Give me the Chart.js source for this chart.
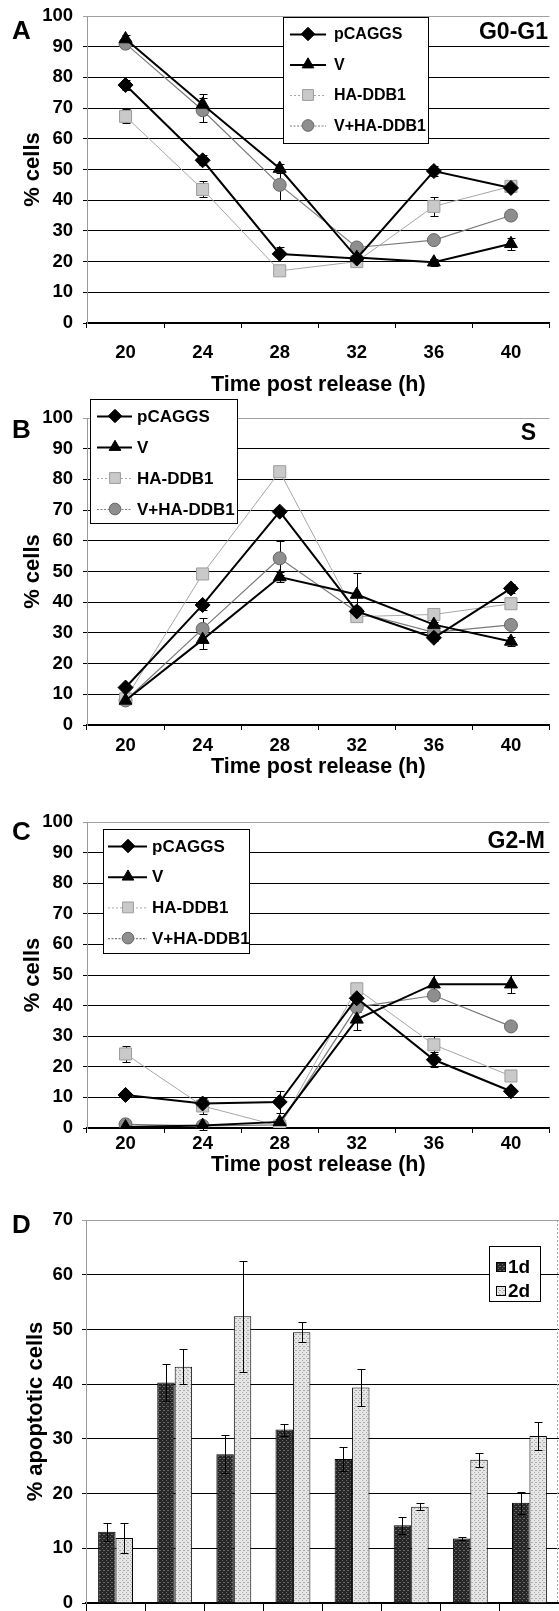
<!DOCTYPE html>
<html><head><meta charset="utf-8">
<script src="https://cdn.jsdelivr.net/npm/chart.js@4/dist/chart.umd.min.js"></script>
<style>
html,body{margin:0;padding:0;background:#fff;}
body{width:559px;height:1611px;position:relative;overflow:hidden;}
canvas{position:absolute;left:0;}
</style></head><body>
<canvas id="cA" width="559" height="400" style="top:0px"></canvas>
<canvas id="cB" width="559" height="387" style="top:395px"></canvas>
<canvas id="cC" width="559" height="385" style="top:795px"></canvas>
<canvas id="cD" width="559" height="421" style="top:1190px"></canvas>
<script>
// ---------- DATA ----------
const hours = ['20', '24', '28', '32', '36', '40'];
const seriesNames = ['pCAGGS', 'V', 'HA-DDB1', 'V+HA-DDB1'];

// Panel A: G0-G1
const g1PCAGGS = [77.5, 53.0, 22.5, 21.0, 49.5, 44.0];
const g1PCAGGSErr = [1.6, 1.6, 2.4, 0.8, 1.5, 1.0];
const g1V = [92.5, 71.2, 50.3, 21.3, 19.8, 25.8];
const g1VErr = [1.2, 3.3, 1.5, 0.8, 1.2, 2.0];
const g1HA = [67.3, 43.5, 17.0, 20.0, 38.0, 44.5];
const g1HAErr = [2.3, 2.6, 1.0, 1.0, 3.0, 1.0];
const g1VHA = [91.0, 69.3, 45.0, 24.6, 27.0, 35.0];
const g1VHAErr = [1.0, 3.9, 5.0, 1.5, 1.0, 1.0];

// Panel B: S
const sPCAGGS = [12.2, 39.1, 69.5, 37.0, 28.4, 44.5];
const sPCAGGSErr = [0.8, 1.5, 1.0, 1.0, 1.0, 1.5];
const sV = [8.0, 27.8, 48.2, 42.5, 32.7, 27.2];
const sVErr = [1.0, 3.0, 1.5, 7.0, 1.0, 1.5];
const sHA = [8.5, 49.2, 82.5, 35.3, 36.0, 39.5];
const sHAErr = [0.8, 1.0, 1.0, 1.5, 1.5, 1.2];
const sVHA = [8.0, 31.3, 54.3, 36.8, 30.2, 32.6];
const sVHAErr = [1.0, 3.7, 5.5, 1.5, 1.0, 1.0];

// Panel C: G2-M
const mPCAGGS = [10.8, 8.0, 8.5, 42.4, 22.3, 12.0];
const mPCAGGSErr = [0.8, 1.5, 3.7, 1.5, 2.5, 1.0];
const mV = [0.3, 0.8, 2.0, 35.5, 47.0, 47.0];
const mVErr = [0.3, 1.5, 1.0, 3.5, 3.0, 3.0];
const mHA = [24.2, 7.2, 0.6, 45.5, 27.2, 17.0];
const mHAErr = [2.5, 2.5, 0.5, 1.5, 3.0, 1.5];
const mVHA = [1.2, 0.7, 1.0, 39.5, 43.3, 33.2];
const mVHAErr = [0.8, 0.5, 0.5, 1.5, 1.5, 1.0];

// Panel D: % apoptotic cells
const groups = ['1', '2', '3', '4', '5', '6', '7', '8'];
const barNames = ['1d', '2d'];
const apo1d = [13.0, 40.3, 27.2, 31.7, 26.3, 14.2, 11.8, 18.3];
const apo1dErr = [1.6, 3.3, 3.5, 1.1, 2.2, 1.6, 0.2, 2.0];
const apo2d = [11.9, 43.2, 52.4, 49.5, 39.4, 17.6, 26.2, 30.5];
const apo2dErr = [2.7, 3.2, 10.1, 1.8, 3.4, 0.6, 1.3, 2.5];

// ---------- STYLE ----------
const FONT = "'Liberation Sans', Arial, sans-serif";
Chart.defaults.font.family = FONT;
Chart.defaults.color = '#000';

function makePattern(base, dot) {
  const c = document.createElement('canvas');
  c.width = 4; c.height = 4;
  const x = c.getContext('2d');
  x.fillStyle = base; x.fillRect(0, 0, 4, 4);
  x.fillStyle = dot; x.fillRect(0, 0, 1, 1); x.fillRect(2, 2, 1, 1); x.fillRect(3, 0, 1, 1);
  return x.createPattern(c, 'repeat');
}
const patDark = makePattern('#262626', '#6a6a6a');
const patLight = makePattern('#e6e6e6', '#a9a9a9');

const lineStyles = [
  {borderColor: '#000', borderWidth: 2, pointStyle: 'rectRot', pointRadius: 7.5, pointBackgroundColor: '#000', pointBorderColor: '#000', legendDash: []},
  {borderColor: '#000', borderWidth: 2, pointStyle: 'triangle', pointRadius: 7.5, pointBackgroundColor: '#000', pointBorderColor: '#000', legendDash: []},
  {borderColor: '#a6a6a6', borderWidth: 1, pointStyle: 'rect', pointRadius: 8.5, pointBackgroundColor: '#c9c9c9', pointBorderColor: '#9c9c9c', legendDash: [2, 2]},
  {borderColor: '#7a7a7a', borderWidth: 1.2, pointStyle: 'circle', pointRadius: 6.5, pointBackgroundColor: '#8e8e8e', pointBorderColor: '#666', legendDash: [2, 1.5]}
];

function drawErrors(chart) {
  const ctx = chart.ctx, ys = chart.scales.y;
  ctx.save();
  ctx.strokeStyle = '#000'; ctx.lineWidth = 1;
  chart.data.datasets.forEach((ds, i) => {
    if (!ds.errors) return;
    const meta = chart.getDatasetMeta(i);
    meta.data.forEach((el, j) => {
      const v = ds.data[j], e = ds.errors[j];
      if (e == null) return;
      const x = Math.round(el.x) + 0.5;
      const yt = Math.round(ys.getPixelForValue(v + e)) + 0.5;
      const yb = Math.round(ys.getPixelForValue(v - e)) + 0.5;
      ctx.beginPath();
      ctx.moveTo(x, yt); ctx.lineTo(x, yb);
      ctx.moveTo(x - 4, yt); ctx.lineTo(x + 4, yt);
      ctx.moveTo(x - 4, yb); ctx.lineTo(x + 4, yb);
      ctx.stroke();
    });
  });
  ctx.restore();
}

const decoPlugin = {
  id: 'deco',
  beforeDatasetsDraw(chart, args, o) { if (chart.config.type === 'line') drawErrors(chart); },
  afterDatasetsDraw(chart, args, o) { if (chart.config.type === 'bar') drawErrors(chart); },
  afterDraw(chart, args, o) {
    const ctx = chart.ctx;
    ctx.save();
    if (o.rightBorder) {
      const a = chart.chartArea;
      ctx.strokeStyle = '#a0a0a0'; ctx.lineWidth = 1; ctx.setLineDash([2, 2]);
      ctx.beginPath(); ctx.moveTo(a.right - 1.5, a.top); ctx.lineTo(a.right - 1.5, a.bottom); ctx.stroke();
      ctx.setLineDash([]);
    }
    ctx.fillStyle = '#000';
    ctx.textBaseline = 'middle';
    ctx.font = 'bold 26px ' + FONT;
    ctx.textAlign = 'left';
    ctx.fillText(o.letter, o.letterX, o.letterY);
    if (o.title) {
      ctx.font = 'bold 23px ' + FONT;
      ctx.textAlign = 'right';
      ctx.fillText(o.title, o.titleX, o.titleY);
    }
    const L = o.legend;
    ctx.fillStyle = '#fff';
    ctx.fillRect(L.x, L.y, L.w, L.h);
    ctx.strokeStyle = '#000'; ctx.lineWidth = 1;
    ctx.strokeRect(L.x + 0.5, L.y + 0.5, L.w, L.h);
    chart.data.datasets.forEach((ds, i) => {
      const y = L.y + L.first + i * L.gap;
      if (L.kind === 'line') {
        ctx.strokeStyle = ds.borderColor; ctx.lineWidth = ds.borderWidth;
        ctx.setLineDash(ds.legendDash || []);
        ctx.beginPath(); ctx.moveTo(L.sx1, y + 0.5); ctx.lineTo(L.sx2, y + 0.5); ctx.stroke();
        ctx.setLineDash([]);
        ctx.fillStyle = ds.pointBackgroundColor; ctx.strokeStyle = ds.pointBorderColor; ctx.lineWidth = 1;
        Chart.helpers.drawPoint(ctx, {pointStyle: ds.pointStyle, radius: ds.pointRadius * 0.9, rotation: 0, borderWidth: 1}, L.mx, y);
      } else {
        ctx.fillStyle = ds.backgroundColor; ctx.fillRect(L.mx - 4.5, y - 4.5, 9, 9);
        ctx.strokeStyle = '#000'; ctx.lineWidth = 1; ctx.strokeRect(L.mx - 4.5, y - 4.5, 9, 9);
      }
      ctx.fillStyle = '#000';
      ctx.font = 'bold ' + L.fs + 'px ' + FONT;
      ctx.textAlign = 'left'; ctx.textBaseline = 'middle';
      ctx.fillText(ds.label, L.tx, y + 1);
    });
    ctx.restore();
  }
};

function lineChart(id, values, errs, cfg) {
  return new Chart(document.getElementById(id), {
    type: 'line',
    data: {
      labels: hours,
      datasets: seriesNames.map((n, i) => Object.assign({label: n, data: values[i], errors: errs[i], fill: false, tension: 0, pointBorderWidth: 1}, lineStyles[i]))
    },
    options: {
      responsive: false, animation: false, events: [],
      layout: {padding: {top: cfg.top, left: 0, right: 0, bottom: 0}},
      plugins: {legend: {display: false}, tooltip: {enabled: false}, deco: cfg.deco},
      scales: {
        x: {
          offset: true,
          grid: {offset: true, drawOnChartArea: false, drawTicks: true, tickLength: 5, color: '#000', lineWidth: 1},
          border: {color: '#000', width: 1.5},
          ticks: {font: {size: 18.5, weight: 'bold'}, color: '#000', padding: cfg.xPad, maxRotation: 0, autoSkip: false},
          title: {display: true, text: 'Time post release (h)', font: {size: 21.5, weight: 'bold'}, color: '#000', padding: {top: 0, bottom: 2}},
          afterFit(s) { s.height = cfg.xH; s.paddingLeft = 0; s.paddingRight = 0; }
        },
        y: {
          min: 0, max: 100,
          ticks: {stepSize: 10, font: {size: 18.5, weight: 'bold'}, color: '#000', padding: 10},
          grid: {color: (c) => (c.tick && c.tick.value === 100) ? '#a0a0a0' : '#000', lineWidth: 1, tickLength: 4},
          border: {color: '#9a9a9a', width: 1},
          title: {display: true, text: '% cells', font: {size: 22, weight: 'bold'}, color: '#000', padding: {top: 20, bottom: 0}},
          afterFit(s) { s.width = 87; s.paddingTop = 0; s.paddingBottom = 0; }
        }
      }
    },
    plugins: [decoPlugin]
  });
}

lineChart('cA', [g1PCAGGS, g1V, g1HA, g1VHA], [g1PCAGGSErr, g1VErr, g1HAErr, g1VHAErr], {
  top: 16, xH: 77, xPad: 14,
  deco: {letter: 'A', letterX: 12, letterY: 32, title: 'G0-G1', titleX: 548, titleY: 33,
    legend: {kind: 'line', x: 283, y: 17, w: 145, h: 126, first: 17, gap: 30.5, sx1: 290, sx2: 326, mx: 308, tx: 334, fs: 16}}
});
lineChart('cB', [sPCAGGS, sV, sHA, sVHA], [sPCAGGSErr, sVErr, sHAErr, sVHAErr], {
  top: 23, xH: 57, xPad: 5,
  deco: {letter: 'B', letterX: 12, letterY: 36, title: 'S', titleX: 536, titleY: 39,
    legend: {kind: 'line', x: 90, y: 4, w: 147, h: 124, first: 17, gap: 31, sx1: 97, sx2: 132, mx: 115, tx: 137, fs: 17}}
});
lineChart('cC', [mPCAGGS, mV, mHA, mVHA], [mPCAGGSErr, mVErr, mHAErr, mVHAErr], {
  top: 27, xH: 52, xPad: 0,
  deco: {letter: 'C', letterX: 12, letterY: 38, title: 'G2-M', titleX: 545, titleY: 47,
    legend: {kind: 'line', x: 103, y: 34, w: 146, h: 124, first: 17, gap: 30.7, sx1: 108, sx2: 147, mx: 128, tx: 152, fs: 17}}
});

new Chart(document.getElementById('cD'), {
  type: 'bar',
  data: {
    labels: groups,
    datasets: [
      {label: barNames[0], data: apo1d, errors: apo1dErr, backgroundColor: patDark, borderColor: '#000', borderWidth: 1, categoryPercentage: 0.59, barPercentage: 1.0},
      {label: barNames[1], data: apo2d, errors: apo2dErr, backgroundColor: patLight, borderColor: '#000', borderWidth: 1, categoryPercentage: 0.59, barPercentage: 1.0}
    ]
  },
  options: {
    responsive: false, animation: false, events: [],
    layout: {padding: {top: 30, left: 0, right: 0, bottom: 0}},
    plugins: {legend: {display: false}, tooltip: {enabled: false},
      deco: {letter: 'D', letterX: 12, letterY: 36, title: '', rightBorder: true,
        legend: {kind: 'bar', x: 489, y: 56, w: 51, h: 55, first: 21, gap: 24, mx: 501, tx: 508, fs: 19}}},
    scales: {
      x: {
        grid: {offset: true, drawOnChartArea: false, drawTicks: true, tickLength: 8, color: '#000', lineWidth: 1},
        border: {color: '#000', width: 1.5},
        ticks: {display: false},
        afterFit(s) { s.height = 8; s.paddingLeft = 0; s.paddingRight = 0; }
      },
      y: {
        min: 0, max: 70,
        ticks: {stepSize: 10, font: {size: 18.5, weight: 'bold'}, color: '#000', padding: 9},
        grid: {color: (c) => (c.tick && c.tick.value === 70) ? '#a0a0a0' : '#000', lineWidth: 1, tickLength: 4},
        border: {color: '#9a9a9a', width: 1},
        title: {display: true, text: '% apoptotic cells', font: {size: 22, weight: 'bold'}, color: '#000', padding: {top: 23, bottom: 0}},
        afterFit(s) { s.width = 86; s.paddingTop = 0; s.paddingBottom = 0; }
      }
    }
  },
  plugins: [decoPlugin]
});
</script>
</body></html>
